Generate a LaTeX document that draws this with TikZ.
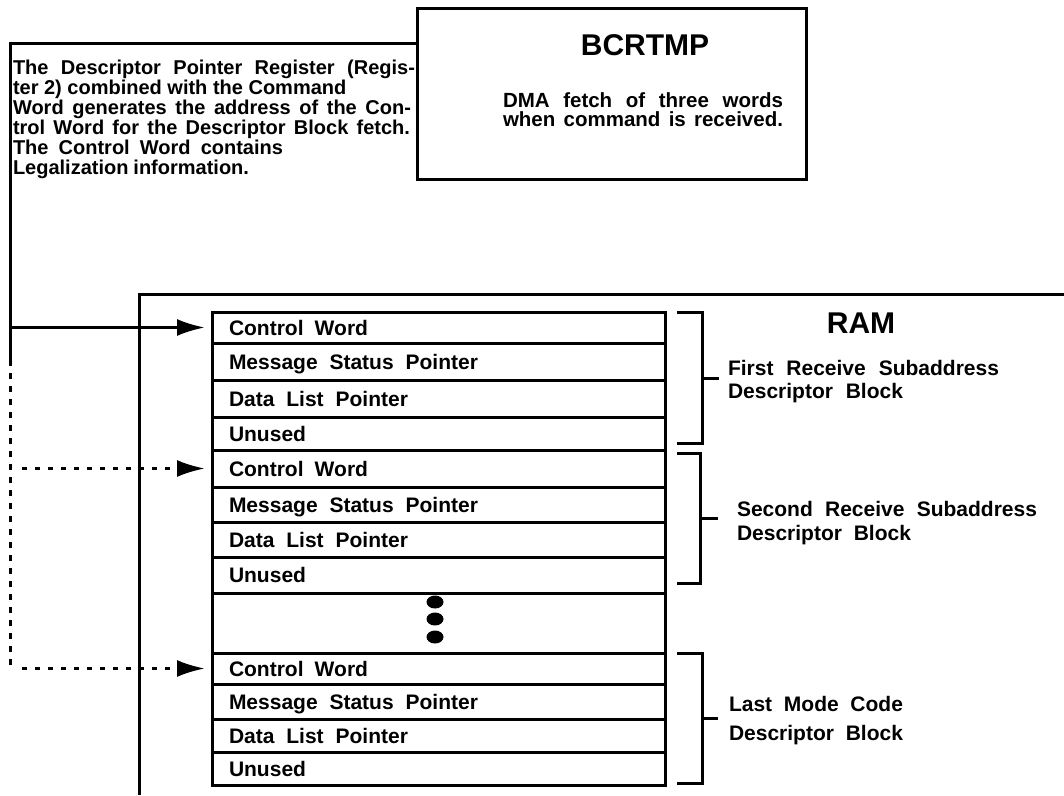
\documentclass[tikz,border=0pt]{standalone}
\usepackage{fontspec}
\setmainfont{Liberation Sans}
\usetikzlibrary{arrows.meta}
\newcommand\celltext[2]{\makebox[419pt][l]{\makebox[#1][s]{#2}}}
\newcommand\jline[2]{\makebox[#1][s]{#2}}
\begin{document}
\begin{tikzpicture}[x=1pt,y=-1pt,
  every node/.style={font=\bfseries, outer sep=0pt},
  heavy/.style={line width=3pt},
  cell/.style={draw, line width=3pt, anchor=north west, minimum width=453pt,
    inner xsep=17pt, inner ysep=0pt,
    text height=15pt, text depth=0pt,
    font=\bfseries\fontsize{21}{24}\selectfont},
  lbl/.style={anchor=base west, inner sep=0pt,
    font=\bfseries\fontsize{21}{24}\selectfont},
  title/.style={anchor=base, inner sep=0pt, font=\bfseries\fontsize{30}{32}\selectfont},
  para/.style={anchor=base west, inner sep=0pt, font=\bfseries\fontsize{20}{20}\selectfont},
  ptr/.style={heavy, -{Latex[length=28pt,width=17pt]}, shorten >=7pt},
  dptr/.style={ptr, dash pattern=on 5pt off 8pt},
  dline/.style={heavy, dash pattern=on 6pt off 7pt},
  brk/.style={heavy},
  dot/.style={fill=black}
]
\useasboundingbox (0,0) rectangle (1064,795);

% BCRTMP box
\node[draw, heavy, anchor=north west, minimum width=389pt, minimum height=171pt, inner sep=0pt] (bcr) at (417,8) {};
\node[title] (bcrt) at (645,55) {BCRTMP};
\node[para, font=\bfseries\fontsize{20.5}{20}\selectfont] (dma1) at (503,107) {\jline{280pt}{DMA fetch of three words}};
\node[para, font=\bfseries\fontsize{20.5}{20}\selectfont] (dma2) at (503,126) {\jline{280pt}{when command is received.}};

% left description
\node[para] (d1) at (13,74)  {\jline{402pt}{The Descriptor Pointer Register (Regis-}};
\node[para] (d2) at (13,94)  {ter 2) combined with the Command};
\node[para] (d3) at (13,114) {\jline{398pt}{Word generates the address of the Con-}};
\node[para] (d4) at (13,134) {\jline{397pt}{trol Word for the Descriptor Block fetch.}};
\node[para] (d5) at (13,154) {\jline{270pt}{The Control Word contains}};
\node[para] (d6) at (13,174) {\jline{236pt}{Legalization information.}};

% RAM outline
\draw[heavy] (1064,294) -- (139,294) -- (139,795);
\node[title] (ram) at (861,333) {RAM};

% block 1
\node[cell, minimum height=31pt] (a1) at (212,312) {\celltext{139pt}{Control Word}};
\node[cell, minimum height=37pt] (a2) at (212,343) {\celltext{249pt}{Message Status Pointer}};
\node[cell, minimum height=37pt] (a3) at (212,380) {\celltext{179pt}{Data List Pointer}};
\node[cell, minimum height=33pt] (a4) at (212,417) {\celltext{74pt}{Unused}};
% block 2
\node[cell, minimum height=37pt] (b1) at (212,450) {\celltext{139pt}{Control Word}};
\node[cell, minimum height=35pt] (b2) at (212,487) {\celltext{249pt}{Message Status Pointer}};
\node[cell, minimum height=35pt] (b3) at (212,522) {\celltext{179pt}{Data List Pointer}};
\node[cell, minimum height=36pt] (b4) at (212,557) {\celltext{74pt}{Unused}};
% dots
\node[cell, minimum height=60pt] (gap) at (212,593) {\celltext{10pt}{}};
\fill[dot] (435,602) ellipse [x radius=8.5, y radius=6.5];
\fill[dot] (435,619) ellipse [x radius=8.5, y radius=6.5];
\fill[dot] (435,637) ellipse [x radius=8.5, y radius=6.5];
% block 3
\node[cell, minimum height=31pt] (c1) at (212,653) {\celltext{139pt}{Control Word}};
\node[cell, minimum height=35pt] (c2) at (212,684) {\celltext{249pt}{Message Status Pointer}};
\node[cell, minimum height=33pt] (c3) at (212,719) {\celltext{179pt}{Data List Pointer}};
\node[cell, minimum height=33pt] (c4) at (212,752) {\celltext{74pt}{Unused}};

% brackets
\draw[brk] (677,312) -- (702,312) -- (702,443) -- (677,443);
\draw[brk] (702,378) -- (719,378);
\draw[brk] (677,453) -- (700,453) -- (700,583) -- (677,583);
\draw[brk] (700,518) -- (718,518);
\draw[brk] (677,653) -- (702,653) -- (702,783) -- (677,783);
\draw[brk] (702,718) -- (718,718);

% bracket labels
\node[lbl] (l1a) at (728,375) {\jline{271pt}{First Receive Subaddress}};
\node[lbl] (l1b) at (728,398) {\jline{175pt}{Descriptor Block}};
\node[lbl] (l2a) at (737,516) {\jline{300pt}{Second Receive Subaddress}};
\node[lbl] (l2b) at (737,540) {\jline{174pt}{Descriptor Block}};
\node[lbl] (l3a) at (729,711) {\jline{174pt}{Last Mode Code}};
\node[lbl] (l3b) at (729,740) {\jline{174pt}{Descriptor Block}};

% pointer lines
\coordinate (tl) at (10,43);
\coordinate (sd) at (10,360);
\draw[heavy] (tl -| bcr.west) -- (tl) -- (sd);
\draw[dline] (sd) -- (tl |- c1.west);
\draw[ptr] (tl |- a1.west) -- (a1.west);
\draw[dptr] ([xshift=12pt]tl |- b1.west) -- (b1.west);
\draw[dptr] ([xshift=12pt]tl |- c1.west) -- (c1.west);
\end{tikzpicture}
\end{document}
